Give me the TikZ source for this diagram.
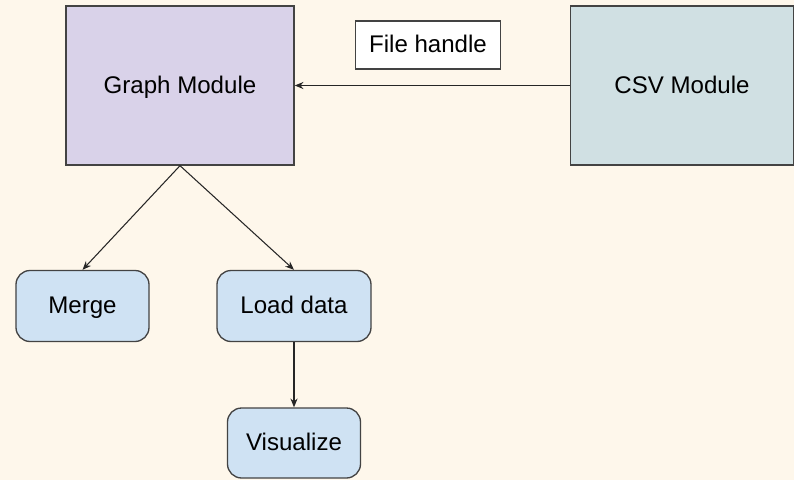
\documentclass[tikz,border=0pt]{standalone}
\usepackage{fontspec}
\setmainfont{Liberation Sans}
\usepackage{xcolor}
\usetikzlibrary{arrows.meta}

\definecolor{bgcream}{HTML}{FEF7EB}
\definecolor{graphpurple}{HTML}{D9D2E9}
\definecolor{csvcyan}{HTML}{D0E0E3}
\definecolor{stepblue}{HTML}{CFE2F3}
\definecolor{edgegray}{HTML}{434343}

\begin{document}
\begin{tikzpicture}[
    font=\fontsize{13.7}{16}\selectfont,
    every node/.style={text height=0.92em, text depth=0.04em},
    module/.style={draw=edgegray, line width=0.75pt, minimum height=3.18cm},
    task/.style={draw=edgegray, line width=0.75pt, fill=stepblue, rounded corners=8pt, minimum height=1.42cm},
    link/.style={draw=black!85, line width=0.6pt, -{Stealth[length=5pt,width=4pt]}}
]
            % Background
            \fill[bgcream] (0,0) rectangle (15.88,9.6);
            \useasboundingbox (0,0) rectangle (15.88,9.6);

            % Modules
            \node[module, fill=graphpurple, minimum width=4.56cm] (graph) at (3.6,7.89) {Graph Module};
            \node[module, fill=csvcyan, minimum width=4.46cm] (csv) at (13.64,7.89) {CSV Module};
            \node[draw=edgegray, line width=0.75pt, fill=white, minimum width=2.9cm, minimum height=0.96cm] (handle) at (8.56,8.7) {File handle};

            % Tasks
            \node[task, minimum width=2.66cm] (merge) at (1.65,3.48) {Merge};
            \node[task, minimum width=3.08cm] (load) at (5.88,3.48) {Load data};
            \node[task, minimum width=2.66cm, minimum height=1.4cm] (visualize) at (5.88,0.74) {Visualize};

            % Connectors
            \draw[link] (csv) -- (graph);
            \draw[link] (graph.south) -- (merge.north);
            \draw[link] (graph.south) -- (load.north);
            \draw[link] (load) -- (visualize);
\end{tikzpicture}
\end{document}
